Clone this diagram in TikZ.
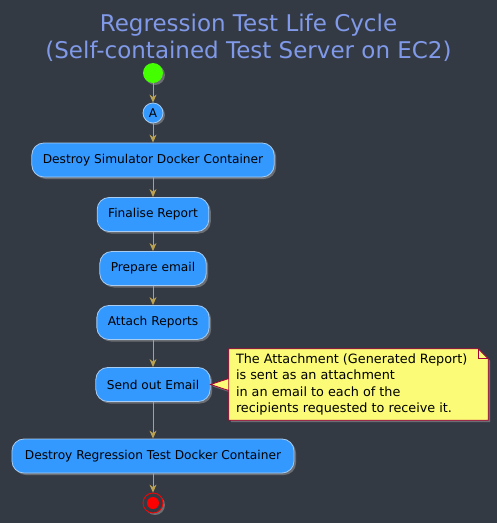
\documentclass[tikz,border=0pt]{standalone}
\usepackage{fontspec}
\setmainfont{DejaVu Sans}
\usepackage{xcolor}
\usetikzlibrary{arrows.meta,positioning,shadows}
\definecolor{bgdark}{HTML}{343A44}
\definecolor{titleblue}{HTML}{8099E8}
\definecolor{actfill}{HTML}{3399FF}
\definecolor{actline}{HTML}{A8CCF2}
\definecolor{flowgold}{HTML}{BBA152}
\definecolor{notefill}{HTML}{FBFB77}
\definecolor{noteline}{HTML}{A80036}
\definecolor{startgreen}{HTML}{44FF00}

\begin{document}
\begin{tikzpicture}[
  x=1pt, y=-1pt,
  shade/.style={drop shadow={shadow xshift=2pt, shadow yshift=-2pt, fill=gray!80, opacity=0.55}},
  act/.style={rectangle, draw=actline, fill=actfill, rounded corners=12pt, line width=0.8pt, inner xsep=11pt, minimum height=34pt, font=\fontsize{12.2}{14}\selectfont, shade},
  arrow/.style={-{Stealth[length=8pt, width=7pt, inset=2.5pt]}, draw=flowgold, line width=1pt}
]
\useasboundingbox[fill=bgdark] (0,0) rectangle (497,523);

\node[text=titleblue, align=center, font=\fontsize{23}{27}\selectfont] (title) at (248.5,38)
  {Regression Test Life Cycle\\(Self-contained Test Server on EC2)};

\node[circle, fill=startgreen, minimum size=20pt, inner sep=0pt, shade] (start) at (153,73) {};
\node[circle, fill=actfill, draw=actline, line width=0.8pt, minimum size=20pt, inner sep=0pt, font=\fontsize{12}{14}\selectfont, shade] (conA) at (153,113) {A};

\node[act] (simdestroy) at (153,160) {Destroy Simulator Docker Container};
\node[act] (finalise) at (153,214.5) {Finalise Report};
\node[act] (prepare) at (153,268.5) {Prepare email};
\node[act] (attach) at (153,322.5) {Attach Reports};
\node[act] (sendout) at (153,384.5) {Send out Email};
\node[act, inner xsep=13pt] (regdestroy) at (153,456) {Destroy Regression Test Docker Container};

\node[circle, draw=red, fill=bgdark, line width=0.8pt, minimum size=20pt, inner sep=0pt, shade] (stop) at (153,503) {};
\node[circle, fill=red, minimum size=12pt, inner sep=0pt] (stopdot) at (stop) {};

% note beside the email step
\node[minimum width=259pt, minimum height=71pt, inner sep=0pt] (emailnote) at (358.5,384.5) {};
\filldraw[fill=notefill, draw=noteline, line width=0.8pt, shade]
  (emailnote.north west) -- ([xshift=-10pt]emailnote.north east) -- ([yshift=-10pt]emailnote.north east)
  -- (emailnote.south east) -- (emailnote.south west) -- ([yshift=6pt]emailnote.west)
  -- (sendout.east) -- ([yshift=-6pt]emailnote.west) -- cycle;
\draw[noteline, line width=0.8pt] ([xshift=-10pt]emailnote.north east) -- ([xshift=-10pt,yshift=-10pt]emailnote.north east) -- ([yshift=-10pt]emailnote.north east);
\node[align=left, anchor=west, inner xsep=7pt, inner ysep=0pt, font=\fontsize{12.8}{16.3}\selectfont] (notetext) at (emailnote.west)
  {The Attachment (Generated Report)\\is sent as an attachment\\in an email to each of the\\recipients requested to receive it.};

\draw[arrow] (start) -- (conA);
\draw[arrow] (conA) -- (simdestroy);
\draw[arrow] (simdestroy) -- (finalise);
\draw[arrow] (finalise) -- (prepare);
\draw[arrow] (prepare) -- (attach);
\draw[arrow] (attach) -- (sendout);
\draw[arrow] (sendout) -- (regdestroy);
\draw[arrow] (regdestroy) -- (stop);
\end{tikzpicture}
\end{document}
